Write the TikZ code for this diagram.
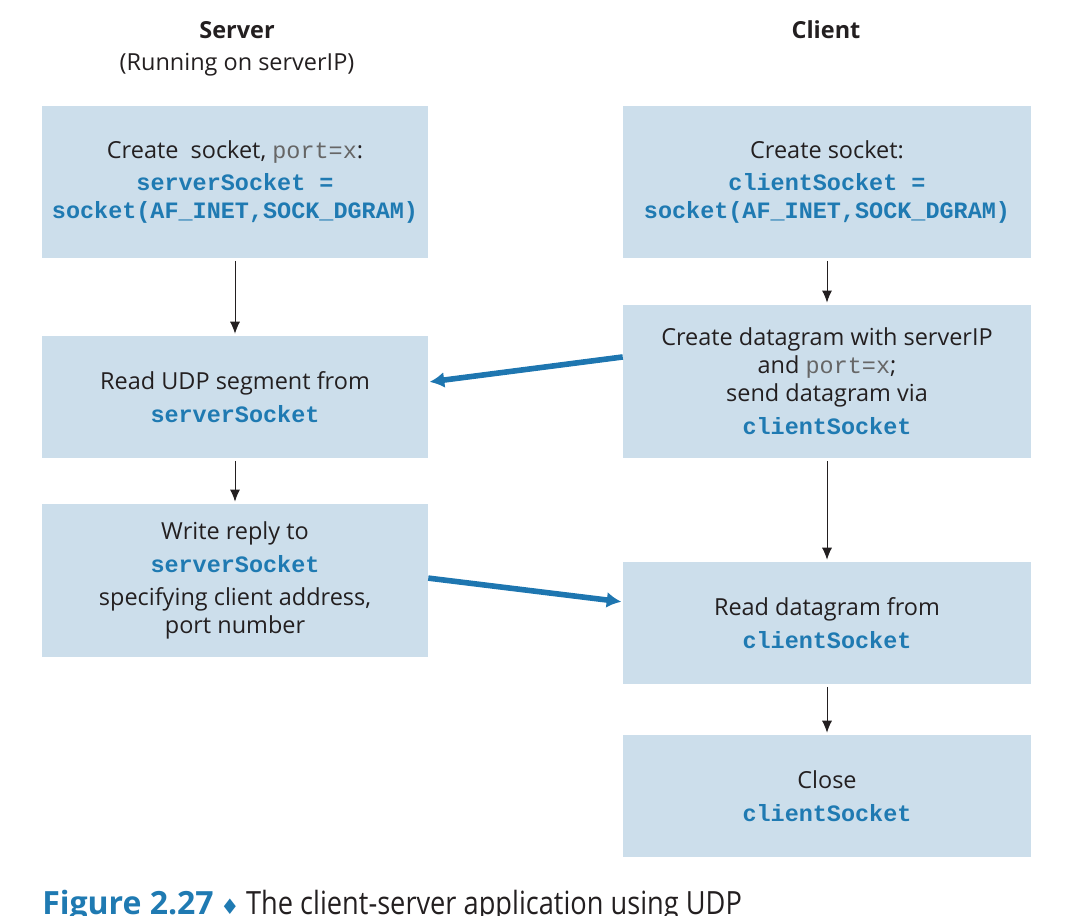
\documentclass[tikz,border=0pt]{standalone}
\usepackage{fontspec}
\usepackage{xcolor}
\usetikzlibrary{arrows.meta}
\setmainfont{Open Sans}
\newfontfamily\codefont{Liberation Mono}
\newfontfamily\symfont{DejaVu Sans}
\definecolor{boxfill}{RGB}{204,222,235}
\definecolor{codeblue}{RGB}{31,122,178}
\definecolor{arrowblue}{RGB}{30,118,176}
\definecolor{textdark}{RGB}{35,31,32}
\newcommand{\code}[1]{{\codefont\bfseries\color{codeblue}#1}}
\newcommand{\plain}[1]{{\codefont\color{black!60}#1}}

\begin{document}
\begin{tikzpicture}[x=0.75pt,y=-0.75pt,
		font=\fontsize{17.6}{21}\selectfont, text=textdark,
		stepbox/.style={fill=boxfill, inner sep=0pt, align=center},
		srvbox/.style={stepbox, minimum width=289.5pt},
		clibox/.style={stepbox, minimum width=306pt},
		flow/.style={-{Latex[length=9pt,width=7.5pt]}, line width=0.7pt, textdark, shorten >=1.5pt, shorten <=2pt},
		msg/.style={-{Latex[length=11pt,width=12pt]}, line width=4.2pt, arrowblue, shorten >=1pt}]
			\useasboundingbox (0,0) rectangle (1092,916);
			\node (srvhead) at (237,30) {\bfseries Server};
			\node (srvsub) at (237,65) {(Running on serverIP)};
			\node (clihead) at (826,30) {\bfseries Client};
			% server side
			\node [srvbox, minimum height=114pt] (srv1) at (235,182) {Create\ \ socket, \plain{port=x}:\\[3pt] \code{serverSocket =}\\ \code{socket(AF\_INET,SOCK\_DGRAM)}};
			\node [srvbox, minimum height=91.5pt] (srv2) at (235,397) {Read UDP segment from\\[4pt] \code{serverSocket}};
			\node [srvbox, minimum height=115pt] (srv3) at (235,580.5) {Write reply to\\[4pt] \code{serverSocket}\\[4pt] specifying client address,\\ port number};
			% client side
			\node [clibox, minimum height=114pt] (cli1) at (827,182) {Create socket:\\[3pt] \code{clientSocket =}\\ \code{socket(AF\_INET,SOCK\_DGRAM)}};
			\node [clibox, minimum height=115pt] (cli2) at (827,381.5) {Create datagram with serverIP\\ and \plain{port=x};\\ send datagram via\\[4pt] \code{clientSocket}};
			\node [clibox, minimum height=91.5pt] (cli3) at (827,623) {Read datagram from\\[4pt] \code{clientSocket}};
			\node [clibox, minimum height=91.5pt] (cli4) at (827,796) {Close\\[4pt] \code{clientSocket}};
			% arrows
			\draw [flow] (srv1) -- (srv2);
			\draw [flow] (srv2) -- (srv3);
			\draw [flow] (cli1) -- (cli2);
			\draw [flow] (cli2) -- (cli3);
			\draw [flow] (cli3) -- (cli4);
			\draw [msg] ([yshift=18.4pt]cli2.west) -- ([yshift=11.2pt]srv2.east);
			\draw [msg] ([yshift=1.8pt]srv3.east) -- ([yshift=15.8pt]cli3.west);
			% caption
			\node [anchor=base west, inner sep=0pt, font=\fontsize{24}{28}\selectfont] (caption) at (42,914)
				{\textcolor{codeblue}{\bfseries Figure 2.27}\hspace{5pt}{\symfont\color{codeblue}\fontsize{16}{20}\selectfont ♦}\hspace{5pt}\scalebox{0.85}[1]{The client-server application using UDP}};
		\end{tikzpicture}
\end{document}
